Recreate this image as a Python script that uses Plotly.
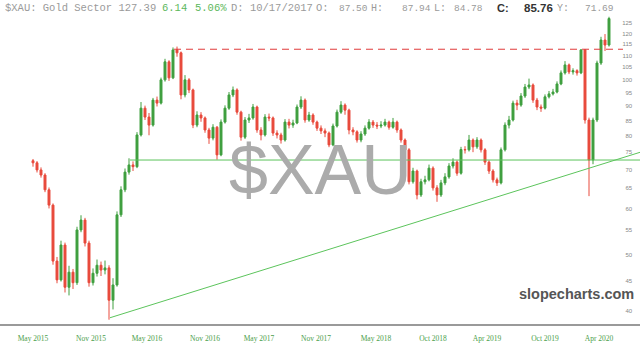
import plotly.graph_objects as go

# ---- data (weekly-ish bars) ----
closes = [71.9, 69.9, 68.5, 64.6, 60.8, 48.7, 45.2, 51.9, 43.9, 46.6,
          44.7, 55.1, 57.3, 52.3, 44.7, 46.4, 47.9, 47.0, 47.4, 41.7,
          44.3, 58.5, 64.6, 69.3, 71.3, 70.8, 80.3, 89.3, 86.2, 83.5,
          92.2, 91.1, 99.9, 107.3, 100.7, 112.5, 111.2, 94.1, 99.9, 96.0,
          83.5, 86.9, 85.9, 81.9, 79.3, 82.8, 74.2, 84.5, 89.3, 94.1,
          96.0, 87.9, 79.6, 85.2, 85.9, 89.7, 81.9, 80.3, 86.2, 85.9,
          80.9, 80.3, 78.7, 84.5, 83.5, 84.2, 89.7, 92.2, 85.2, 86.9,
          84.5, 82.5, 81.6, 80.9, 77.2, 83.2, 87.9, 90.4, 88.6, 81.9,
          81.3, 78.7, 80.6, 82.5, 84.5, 83.5, 83.2, 83.5, 84.5, 82.8,
          84.5, 81.9, 78.7, 75.7, 66.7, 69.6, 63.3, 66.7, 67.2, 70.4,
          65.1, 63.3, 66.4, 68.0, 71.0, 72.1, 69.0, 75.8, 75.7, 78.7,
          76.6, 78.7, 75.7, 72.1, 69.6, 67.2, 66.4, 75.7, 83.5, 85.2,
          91.1, 90.4, 93.7, 97.1, 97.9, 92.2, 89.7, 89.3, 93.4, 94.5,
          95.2, 98.3, 102.7, 106.0, 103.1, 103.6, 102.7, 112.5, 85.2, 72.7,
          85.2, 106.8, 117.0, 114.7, 127.39]
opens = [72.5, 71.9, 69.9, 68.5, 64.6, 60.8, 48.7, 45.2, 51.9, 43.9,
         46.6, 44.7, 55.1, 57.3, 52.3, 44.7, 46.4, 47.9, 47.0, 47.4,
         41.7, 44.3, 58.5, 64.6, 69.3, 71.3, 70.8, 80.3, 89.3, 86.2,
         83.5, 92.2, 91.1, 99.9, 107.3, 100.7, 112.5, 111.2, 94.1, 99.9,
         96.0, 83.5, 86.9, 85.9, 81.9, 79.3, 82.8, 74.2, 84.5, 89.3,
         94.1, 96.0, 87.9, 79.6, 85.2, 85.9, 89.7, 81.9, 80.3, 86.2,
         85.9, 80.9, 80.3, 78.7, 84.5, 83.5, 84.2, 89.7, 92.2, 85.2,
         86.9, 84.5, 82.5, 81.6, 80.9, 77.2, 83.2, 87.9, 90.4, 88.6,
         81.9, 81.3, 78.7, 80.6, 82.5, 84.5, 83.5, 83.2, 83.5, 84.5,
         82.8, 84.5, 81.9, 78.7, 75.7, 66.7, 69.6, 63.3, 66.7, 67.2,
         70.4, 65.1, 63.3, 66.4, 68.0, 71.0, 72.1, 69.0, 75.8, 75.7,
         78.7, 76.6, 78.7, 75.7, 72.1, 69.6, 67.2, 66.4, 75.7, 83.5,
         85.2, 91.1, 90.4, 93.7, 97.1, 97.9, 92.2, 89.7, 89.3, 93.4,
         94.5, 95.2, 98.3, 102.7, 106.0, 103.1, 103.6, 102.7, 112.5, 85.2,
         72.7, 85.2, 106.8, 117.0, 114.7]
highs = [73.0, 72.4, 70.6, 69.0, 65.2, 61.2, 49.5, 52.8, 52.4, 47.8,
         47.2, 55.8, 58.4, 57.8, 52.8, 47.3, 49.0, 48.6, 48.8, 47.9,
         45.5, 59.3, 65.5, 70.3, 73.2, 72.3, 81.2, 91.5, 90.2, 87.6,
         93.0, 93.5, 100.8, 108.6, 108.0, 113.6, 114.0, 111.8, 101.8, 100.6,
         96.5, 88.2, 87.9, 86.4, 82.6, 83.8, 83.2, 85.4, 90.3, 95.2,
         97.3, 96.6, 88.4, 86.2, 87.3, 90.8, 90.2, 82.8, 87.2, 87.4,
         86.4, 81.8, 81.0, 85.5, 85.6, 85.3, 90.6, 93.6, 92.8, 88.0,
         87.5, 85.0, 83.4, 82.4, 81.4, 84.0, 88.8, 91.8, 91.0, 89.1,
         82.8, 81.8, 81.5, 83.4, 85.5, 85.2, 84.5, 84.8, 85.6, 85.0,
         85.9, 85.0, 82.4, 79.2, 76.2, 70.5, 70.0, 67.5, 68.3, 71.4,
         70.9, 65.8, 67.2, 69.0, 71.8, 73.2, 72.6, 76.6, 76.8, 80.3,
         79.2, 79.6, 79.2, 76.2, 72.6, 70.1, 67.8, 76.4, 84.4, 86.6,
         92.0, 92.3, 94.8, 98.3, 100.4, 98.5, 93.0, 90.6, 94.3, 95.6,
         96.4, 99.3, 103.7, 107.6, 106.6, 104.6, 104.2, 112.9, 112.8, 86.0,
         86.0, 107.8, 118.5, 119.8, 128.3]
lows = [70.8, 69.2, 67.8, 64.0, 60.0, 48.0, 44.6, 44.9, 43.0, 42.5,
        43.6, 44.3, 54.6, 51.6, 44.0, 44.2, 45.8, 45.9, 46.2, 38.6,
        40.2, 44.0, 58.0, 64.0, 68.6, 69.6, 70.4, 79.8, 85.2, 80.2,
        83.0, 89.9, 90.6, 99.2, 99.5, 100.2, 109.5, 92.5, 93.2, 94.8,
        82.5, 82.8, 84.6, 81.0, 77.5, 78.6, 72.8, 73.8, 84.0, 88.7,
        93.3, 87.0, 78.5, 79.0, 84.2, 85.3, 81.0, 78.6, 79.8, 84.8,
        80.0, 79.2, 77.6, 78.2, 82.4, 82.6, 83.8, 89.0, 84.3, 84.6,
        83.6, 81.6, 80.6, 79.6, 76.5, 76.8, 82.7, 87.3, 87.0, 80.5,
        80.2, 77.9, 78.0, 80.0, 82.0, 82.6, 82.2, 82.5, 83.0, 82.0,
        82.3, 81.0, 77.9, 74.8, 66.0, 66.2, 62.2, 62.8, 66.0, 66.8,
        64.4, 61.6, 62.8, 65.8, 67.5, 70.3, 68.3, 68.6, 74.6, 75.2,
        75.0, 76.0, 74.9, 71.3, 68.8, 66.5, 65.6, 66.0, 75.2, 82.4,
        84.7, 88.6, 89.8, 93.0, 96.3, 91.2, 88.6, 88.0, 88.8, 92.8,
        93.9, 94.7, 97.8, 102.0, 102.2, 102.0, 101.6, 102.2, 84.0, 63.0,
        71.5, 84.5, 106.0, 112.0, 114.0]
bar_index = list(range(len(closes)))

tick_pos = [0, 14.5, 28.5, 43, 56.5, 70.75, 85.75, 100, 113.5, 128, 141.5]
tick_text = ["May 2015", "Nov 2015", "May 2016", "Nov 2016", "May 2017",
             "Nov 2017", "May 2018", "Oct 2018", "Apr 2019", "Oct 2019", "Apr 2020"]
y_ticks = [40, 45, 50, 55, 60, 65, 70, 75, 80, 85, 90, 95, 100, 105, 110, 115, 120, 125]

resistance = 112.8
support = 72.7
trend_x = [19.25, 151.75]
trend_y = [38.9, 74.96]

fig = go.Figure()
fig.add_trace(go.Candlestick(
    x=bar_index, open=opens, high=highs, low=lows, close=closes,
    increasing=dict(line=dict(color="#3f9f3f", width=1), fillcolor="#3f9f3f"),
    decreasing=dict(line=dict(color="#e84a3c", width=1), fillcolor="#e84a3c"),
    whiskerwidth=0, showlegend=False, hoverinfo="skip"))

fig.add_trace(go.Scatter(x=[35.25, 147.5], y=[resistance, resistance], mode="lines",
                         line=dict(color="#e03a3a", width=1, dash="7px,5px"),
                         showlegend=False, hoverinfo="skip"))
fig.add_trace(go.Scatter(x=[24.25, 151.75], y=[support, support], mode="lines",
                         line=dict(color="#5cc45c", width=1),
                         showlegend=False, hoverinfo="skip"))
fig.add_trace(go.Scatter(x=trend_x, y=trend_y, mode="lines",
                         line=dict(color="#5cc45c", width=1),
                         showlegend=False, hoverinfo="skip"))

H = 324.0
def py(p):
    return (H - p) / H

annots = []
mono = "Liberation Mono"
grey = "#9a9a9a"
green = "#5cb85c"
header = [
    ("$XAU: Gold Sector 127.39", 3, grey, mono, 10.5),
    ("6.14", 160, green, mono, 10.5),
    ("5.06%", 193, green, mono, 10.5),
    ("D: 10/17/2017", 229, grey, mono, 10.5),
    ("O:", 314, grey, mono, 10.5),
    ("87.50", 337, grey, mono, 9.5),
    ("H:", 369, grey, mono, 10),
    ("87.94", 400, grey, mono, 9.5),
    ("L:", 432, grey, mono, 10),
    ("84.78", 452, grey, mono, 9.5),
    ("<b>C:</b>", 495, "#333333", "Liberation Sans", 11),
    ("<b>85.76</b>", 522, "#333333", "Liberation Sans", 11.5),
    ("Y:", 555, grey, mono, 10),
    ("71.69", 583, grey, mono, 9.5),
]
for txt, x, col, fam, sz in header:
    annots.append(dict(text=txt, x=x / 640.0, y=py(8), xref="paper", yref="paper",
                       xanchor="left", yanchor="middle", showarrow=False,
                       font=dict(family=fam, size=sz, color=col)))

annots.append(dict(text="$XAU", x=0.5, y=py(170), xref="paper", yref="paper",
                   xanchor="center", yanchor="middle", showarrow=False,
                   font=dict(family="Liberation Sans", size=70, color="#ababab")))
annots.append(dict(text="<b>slopecharts.com</b>", x=636 / 640.0, y=py(294), xref="paper",
                   yref="paper", xanchor="right", yanchor="middle", showarrow=False,
                   font=dict(family="Liberation Sans", size=14.5, color="#555555")))

fig.update_layout(
    width=640, height=351,
    margin=dict(l=0, r=0, t=0, b=27),
    paper_bgcolor="white", plot_bgcolor="white",
    annotations=annots,
    xaxis=dict(range=[-8.25, 151.75], rangeslider=dict(visible=False),
               showgrid=False, zeroline=False,
               showline=True, linecolor="#9a9a9a", linewidth=2,
               tickmode="array", tickvals=tick_pos, ticktext=tick_text,
               ticks="outside", ticklen=6, tickcolor="rgba(0,0,0,0)",
               tickfont=dict(family="Liberation Serif", size=7.5, color="#4a9e4a")),
    yaxis=dict(type="log", range=[1.57917, 2.13710], side="right",
               showgrid=False, zeroline=False, showline=False,
               tickmode="array", tickvals=y_ticks, ticktext=[str(v) for v in y_ticks],
               ticklabelposition="inside", ticks="inside", ticklen=6,
               tickcolor="rgba(0,0,0,0)",
               tickfont=dict(family="Liberation Sans", size=6, color="#888888")),
)

fig.write_html("out.html")
